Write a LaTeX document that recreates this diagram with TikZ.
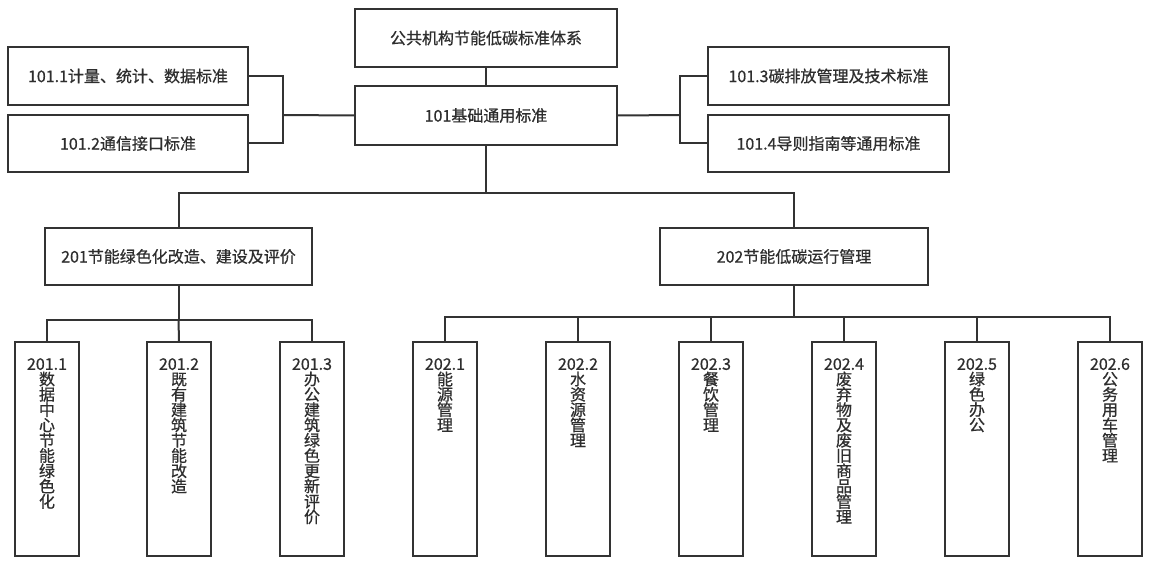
\documentclass[tikz,border=0pt]{standalone}
\usepackage{fontspec}
\setmainfont{Noto Sans CJK SC}[FakeBold=0.7]
\definecolor{lc}{HTML}{333333}
\definecolor{tc}{HTML}{2E2E2E}
\tikzset{
  hbox/.style={draw=lc, line width=2pt, fill=white, text=tc, inner sep=0pt,
    font=\fontsize{16}{16}\selectfont},
  vbox/.style={draw=lc, line width=2pt, fill=white, inner sep=0pt,
    minimum width=64pt, minimum height=214pt},
  vtext/.style={text=tc, inner sep=0pt, anchor=north, align=center,
    font=\fontsize{16}{15.3}\selectfont},
  conn/.style={draw=lc, line width=2pt},
}
\begin{document}
\begin{tikzpicture}[x=1pt,y=-1pt]
\useasboundingbox (0,0) rectangle (1152,567);
\coordinate (jl) at (283,115);
\coordinate (jr) at (680,115);
\coordinate (j1) at (486,193);
\coordinate (j201) at (178.5,320);
\coordinate (j202) at (794,317);

\node[hbox, minimum width=262pt, minimum height=58pt] (top) at (486,38) {公共机构节能低碳标准体系};
\node[hbox, minimum width=262pt, minimum height=59pt] (b101) at (486,115.5) {101基础通用标准};
\node[hbox, minimum width=240pt, minimum height=58pt] (b1011) at (128,76) {101.1计量、统计、数据标准};
\node[hbox, minimum width=240pt, minimum height=57pt] (b1012) at (128,143.5) {101.2通信接口标准};
\node[hbox, minimum width=241pt, minimum height=58pt] (b1013) at (828.5,76) {101.3碳排放管理及技术标准};
\node[hbox, minimum width=241pt, minimum height=57pt] (b1014) at (828.5,143.5) {101.4导则指南等通用标准};
\node[hbox, minimum width=267pt, minimum height=57pt] (b201) at (178.5,256.5) {201节能绿色化改造、建设及评价};
\node[hbox, minimum width=268pt, minimum height=57pt] (b202) at (794,256.5) {202节能低碳运行管理};

\node[vbox] (v2011) at (47,449) {};
\node[vbox] (v2012) at (179,449) {};
\node[vbox] (v2013) at (312,449) {};
\node[vbox] (v2021) at (445,449) {};
\node[vbox] (v2022) at (578,449) {};
\node[vbox] (v2023) at (711,449) {};
\node[vbox] (v2024) at (844,449) {};
\node[vbox] (v2025) at (977,449) {};
\node[vbox] (v2026) at (1110,449) {};

\node[vtext] (t2011) at ([yshift=-17pt]v2011.north) {201.1\\数\\据\\中\\心\\节\\能\\绿\\色\\化};
\node[vtext] (t2012) at ([yshift=-17pt]v2012.north) {201.2\\既\\有\\建\\筑\\节\\能\\改\\造};
\node[vtext] (t2013) at ([yshift=-17pt]v2013.north) {201.3\\办\\公\\建\\筑\\绿\\色\\更\\新\\评\\价};
\node[vtext] (t2021) at ([yshift=-17pt]v2021.north) {202.1\\能\\源\\管\\理};
\node[vtext] (t2022) at ([yshift=-17pt]v2022.north) {202.2\\水\\资\\源\\管\\理};
\node[vtext] (t2023) at ([yshift=-17pt]v2023.north) {202.3\\餐\\饮\\管\\理};
\node[vtext] (t2024) at ([yshift=-17pt]v2024.north) {202.4\\废\\弃\\物\\及\\废\\旧\\商\\品\\管\\理};
\node[vtext] (t2025) at ([yshift=-17pt]v2025.north) {202.5\\绿\\色\\办\\公};
\node[vtext] (t2026) at ([yshift=-17pt]v2026.north) {202.6\\公\\务\\用\\车\\管\\理};

\draw[conn] (top.south) -- (b101.north);
\draw[conn] (b101.west) -- (jl);
\draw[conn] (b1011.east) -| (jl) |- (b1012.east);
\draw[conn] (b101.east) -- (jr);
\draw[conn] (b1013.west) -| (jr) |- (b1014.west);
\draw[conn] (b101.south) -- (j1);
\draw[conn] (b201.north) |- (j1) -| (b202.north);
\draw[conn] (b201.south) -- (j201);
\draw[conn] (v2011.north) |- (j201) -| (v2013.north);
\draw[conn] (v2012.north) -- (j201);
\draw[conn] (b202.south) -- (j202);
\draw[conn] (v2021.north) |- (j202) -| (v2026.north);
\draw[conn] (v2022.north) |- (j202);
\draw[conn] (v2023.north) |- (j202);
\draw[conn] (v2024.north) |- (j202);
\draw[conn] (v2025.north) |- (j202);
\end{tikzpicture}
\end{document}
